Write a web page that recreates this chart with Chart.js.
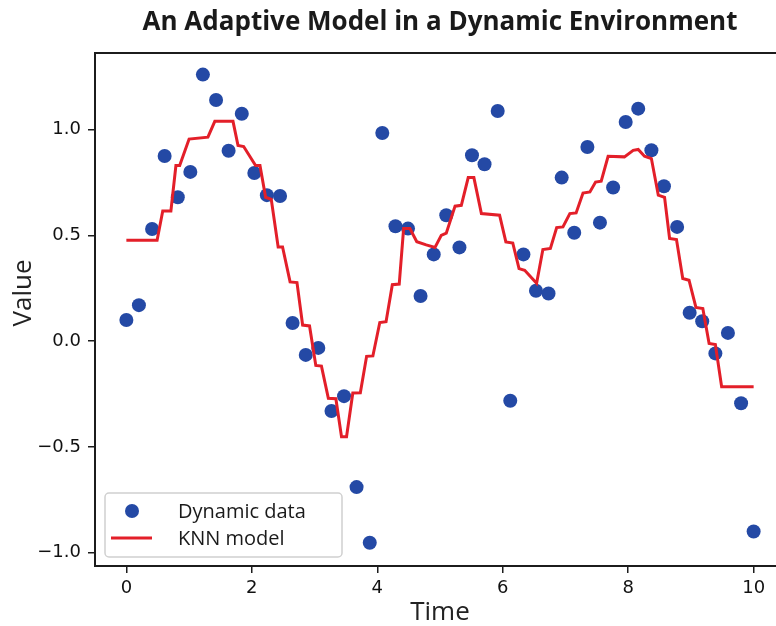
<!DOCTYPE html>
<html>
<head>
<meta charset="utf-8">
<script src="https://cdn.jsdelivr.net/npm/chart.js@4/dist/chart.umd.min.js"></script>
<style>
  html, body { margin: 0; padding: 0; background: #fff; overflow: hidden; }
  #wrap { width: 800px; height: 640px; position: relative; }
</style>
</head>
<body>
<div id="wrap"><canvas id="knn-chart" width="800" height="640"></canvas></div>
<script>
// ---------------------- DATA -------------------------
const chartTitle = 'An Adaptive Model in a Dynamic Environment';
const xLabel = 'Time';
const yLabel = 'Value';

// noisy observations (blue dots)
const dataTime = [0.00, 0.20, 0.41, 0.61, 0.82, 1.02, 1.22, 1.43, 1.63, 1.84,
                  2.04, 2.24, 2.45, 2.65, 2.86, 3.06, 3.27, 3.47, 3.67, 3.88,
                  4.08, 4.29, 4.49, 4.69, 4.90, 5.10, 5.31, 5.51, 5.71, 5.92,
                  6.12, 6.33, 6.53, 6.73, 6.94, 7.14, 7.35, 7.55, 7.76, 7.96,
                  8.16, 8.37, 8.57, 8.78, 8.98, 9.18, 9.39, 9.59, 9.80, 10.00];
const dataValue = [0.10, 0.17, 0.53, 0.875, 0.68, 0.80, 1.26, 1.14, 0.90, 1.075,
                   0.795, 0.69, 0.686, 0.086, -0.065, -0.032, -0.33, -0.26, -0.69, -0.953,
                   0.984, 0.543, 0.532, 0.213, 0.41, 0.595, 0.443, 0.879, 0.836, 1.088,
                   -0.282, 0.41, 0.238, 0.225, 0.773, 0.512, 0.918, 0.56, 0.726, 1.036,
                   1.099, 0.902, 0.732, 0.54, 0.134, 0.094, -0.058, 0.039, -0.294, -0.90];

// KNN model prediction (red line vertices)
const knnTime = [0.00, 0.49, 0.58, 0.71, 0.79, 0.85, 1.00, 1.30, 1.41, 1.70,
                 1.78, 1.87, 2.06, 2.13, 2.22, 2.31, 2.42, 2.49, 2.61, 2.72,
                 2.81, 2.92, 3.02, 3.11, 3.22, 3.34, 3.43, 3.51, 3.61, 3.73,
                 3.83, 3.93, 4.04, 4.14, 4.24, 4.35, 4.42, 4.52, 4.63, 4.78,
                 4.92, 5.02, 5.10, 5.24, 5.34, 5.45, 5.54, 5.66, 5.95, 6.05,
                 6.16, 6.26, 6.35, 6.54, 6.64, 6.76, 6.86, 6.96, 7.07, 7.17,
                 7.28, 7.39, 7.48, 7.57, 7.68, 7.94, 8.08, 8.16, 8.26, 8.37,
                 8.48, 8.58, 8.66, 8.77, 8.87, 8.97, 9.08, 9.19, 9.29, 9.39,
                 9.49, 10.00];
const knnValue = [0.477, 0.477, 0.615, 0.615, 0.83, 0.83, 0.955, 0.964, 1.039, 1.039,
                  0.925, 0.92, 0.83, 0.83, 0.68, 0.67, 0.445, 0.445, 0.28, 0.277,
                  0.076, 0.072, -0.115, -0.118, -0.27, -0.272, -0.452, -0.452, -0.245, -0.244,
                  -0.072, -0.07, 0.088, 0.092, 0.267, 0.27, 0.532, 0.532, 0.47, 0.455,
                  0.443, 0.50, 0.51, 0.638, 0.642, 0.773, 0.773, 0.603, 0.595, 0.469,
                  0.464, 0.343, 0.335, 0.273, 0.433, 0.438, 0.537, 0.54, 0.603, 0.606,
                  0.70, 0.705, 0.752, 0.756, 0.874, 0.871, 0.902, 0.906, 0.874, 0.863,
                  0.69, 0.68, 0.485, 0.48, 0.296, 0.288, 0.159, 0.154, -0.011, -0.016,
                  -0.216, -0.216];

const xTicks = [0, 2, 4, 6, 8, 10];
const yTicks = [-1.0, -0.5, 0.0, 0.5, 1.0];

const dotColor = '#2449a5';
const lineColor = '#e31f29';
const inkColor = '#1c1c1c';

// ---------------------- HELPERS -------------------------
function fmtY(v) {
      const s = Math.abs(v).toFixed(1);
      return v < 0 ? '\u2212' + s : s;
}

// frame, title, axis label and legend
const decorPlugin = {
      id: 'decor',
      afterDraw(chart) {
            const ctx = chart.ctx;
            const a = chart.chartArea;
            ctx.save();

            // axes frame
            ctx.strokeStyle = inkColor;
            ctx.lineWidth = 2;
            ctx.strokeRect(a.left, a.top, a.right - a.left, a.bottom - a.top);

            // title
            ctx.fillStyle = '#1a1a1a';
            ctx.font = 'bold 26px "Open Sans"';
            ctx.textAlign = 'center';
            ctx.textBaseline = 'alphabetic';
            ctx.fillText(chartTitle, (a.left + a.right) / 2, 30);

            // y label
            ctx.save();
            ctx.translate(31, 293);
            ctx.rotate(-Math.PI / 2);
            ctx.font = '26px "Open Sans"';
            ctx.fillStyle = '#222';
            ctx.fillText(yLabel, 0, 0);
            ctx.restore();

            // legend
            const lx = 105, ly = 493, lw = 237, lh = 64;
            ctx.fillStyle = 'rgba(255,255,255,0.8)';
            ctx.strokeStyle = '#d0d0d0';
            ctx.lineWidth = 1.5;
            ctx.beginPath();
            ctx.roundRect(lx, ly, lw, lh, 4);
            ctx.fill();
            ctx.stroke();

            ctx.fillStyle = dotColor;
            ctx.beginPath();
            ctx.arc(132, 511, 7, 0, Math.PI * 2);
            ctx.fill();

            ctx.strokeStyle = lineColor;
            ctx.lineWidth = 3;
            ctx.beginPath();
            ctx.moveTo(111, 538);
            ctx.lineTo(152, 538);
            ctx.stroke();

            ctx.fillStyle = '#1a1a1a';
            ctx.font = '20px "Open Sans"';
            ctx.textAlign = 'left';
            ctx.textBaseline = 'middle';
            ctx.fillText(chart.data.datasets[1].label, 178, 512);
            ctx.fillText(chart.data.datasets[0].label, 178, 539);

            ctx.restore();
      }
};

const ctx = document.getElementById('knn-chart').getContext('2d');

const knnChart = new Chart(ctx, {
      type: 'scatter',
      data: {
            datasets: [
                  {
                        label: 'KNN model',
                        data: knnTime.map((t, i) => ({ x: t, y: knnValue[i] })),
                        showLine: true,
                        borderColor: lineColor,
                        borderWidth: 3,
                        pointRadius: 0,
                        tension: 0,
                        order: 0
                  },
                  {
                        label: 'Dynamic data',
                        data: dataTime.map((t, i) => ({ x: t, y: dataValue[i] })),
                        backgroundColor: dotColor,
                        borderWidth: 0,
                        pointRadius: 7,
                        order: 1
                  }
            ]
      },
      options: {
            responsive: false,
            animation: false,
            layout: { padding: { left: 0, top: 53, right: 15, bottom: 0 } },
            plugins: {
                  legend: { display: false },
                  tooltip: { enabled: false }
            },
            scales: {
                  x: {
                        type: 'linear',
                        min: -0.5,
                        max: 10.5,
                        afterBuildTicks: s => { s.ticks = xTicks.map(v => ({ value: v })); },
                        afterFit: s => { s.height = 74; },
                        border: { display: false },
                        grid: { drawOnChartArea: false, drawTicks: true, tickLength: 7, color: inkColor, lineWidth: 1.5 },
                        ticks: {
                              padding: 5,
                              color: '#111',
                              font: { family: 'DejaVu Sans', size: 18 },
                              callback: v => String(v)
                        },
                        title: {
                              display: true,
                              text: xLabel,
                              color: '#222',
                              font: { family: 'Open Sans', size: 26 },
                              padding: { top: 0, bottom: 12 }
                        }
                  },
                  y: {
                        type: 'linear',
                        min: -1.063,
                        max: 1.362,
                        afterBuildTicks: s => { s.ticks = yTicks.map(v => ({ value: v })); },
                        afterFit: s => { s.width = 95; },
                        border: { display: false },
                        grid: { drawOnChartArea: false, drawTicks: true, tickLength: 7, color: inkColor, lineWidth: 1.5 },
                        ticks: {
                              padding: 7,
                              color: '#111',
                              font: { family: 'DejaVu Sans', size: 18 },
                              callback: v => fmtY(v)
                        }
                  }
            }
      },
      plugins: [decorPlugin]
});
</script>
</body>
</html>
